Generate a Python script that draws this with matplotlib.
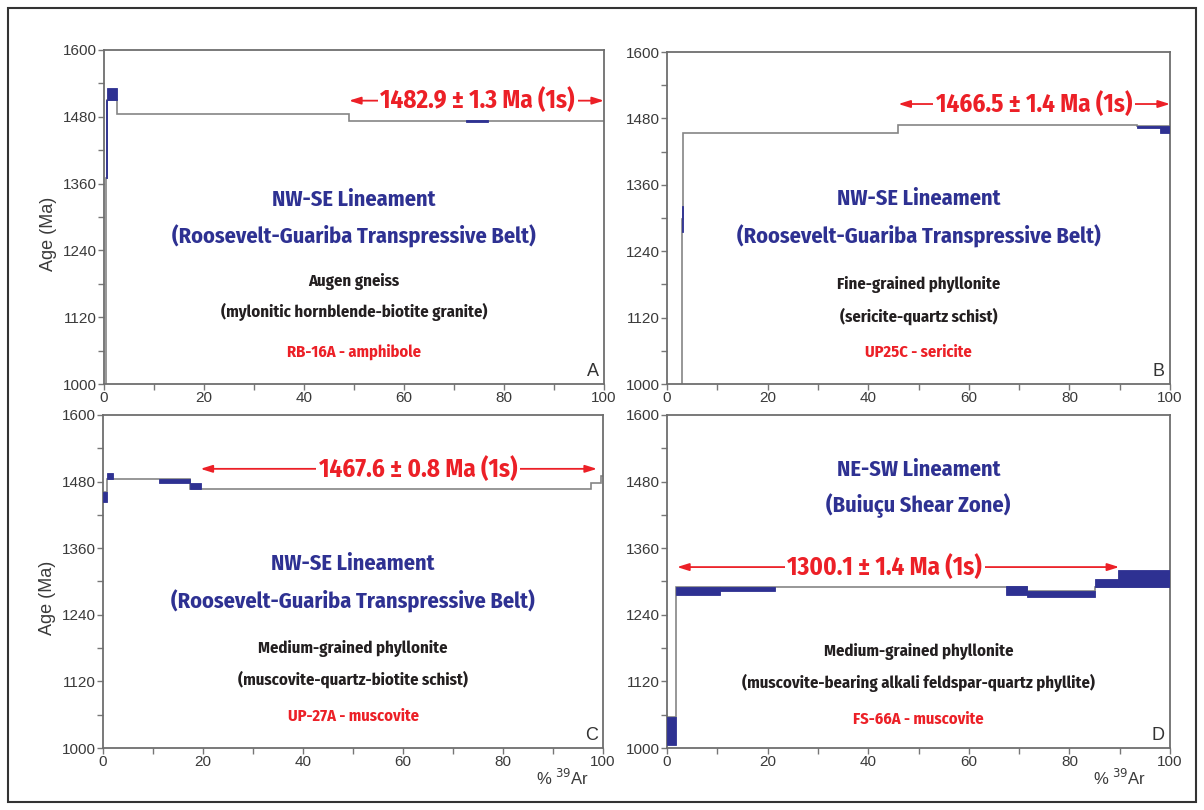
import numpy as np
import matplotlib
matplotlib.use("Agg")
import matplotlib.pyplot as plt
from matplotlib.patches import Rectangle
from matplotlib.ticker import FixedLocator

nan = np.nan

# step heating spectra: step edges (% 39Ar), step age line, error box low/high (Ma)
edges_a = [0, 0.3, 0.6, 2.6, 49, 72.3, 76.7, 100]
line_a = [950, 1370, 1510, 1485, 1473, 1473, 1473]
lo_a = [nan, 1370, 1510, nan, nan, 1471.5, nan]
hi_a = [nan, 1510, 1531, nan, nan, 1474.5, nan]

edges_b = [0, 2.9, 3.1, 46, 93.4, 98, 100]
line_b = [950, 1298, 1453, 1468, 1466, 1466]
lo_b = [nan, 1274, nan, nan, 1462, 1454]
hi_b = [nan, 1322, nan, nan, 1466, 1466]

edges_c = [0, 0.7, 1.9, 11.2, 17.3, 19.5, 97.5, 99.6, 100]
line_c = [1462, 1484, 1484, 1484, 1466, 1466, 1477, 1490]
lo_c = [1444, 1484, nan, 1477, 1466, nan, nan, nan]
hi_c = [1462, 1496, nan, 1484, 1477, nan, nan, nan]

edges_d = [0, 1.7, 10.5, 21.5, 67.3, 71.5, 85, 89.7, 100]
line_d = [1056, 1290, 1290, 1290, 1290, 1282, 1290, 1290]
lo_d = [1005, 1275, 1282, nan, 1275, 1272, 1290, 1290]
hi_d = [1056, 1290, 1290, nan, 1292, 1282, 1305, 1320]

# plateau ages: label, arrow start, arrow end, arrow age, label x
plateaus = [
    ("1482.9 ± 1.3 Ma (1s)", 49, 100, 1509, 74.7),
    ("1466.5 ± 1.4 Ma (1s)", 46, 100, 1506, 73.0),
    ("1467.6 ± 0.8 Ma (1s)", 19.5, 98.8, 1503, 63.0),
    ("1300.1 ± 1.4 Ma (1s)", 2.0, 89.9, 1326, 43.3),
]

titles = [
    ("NW-SE Lineament", "(Roosevelt-Guariba Transpressive Belt)"),
    ("NW-SE Lineament", "(Roosevelt-Guariba Transpressive Belt)"),
    ("NW-SE Lineament", "(Roosevelt-Guariba Transpressive Belt)"),
    ("NE-SW Lineament", "(Buiuçu Shear Zone)"),
]
rocks = [
    ("Augen gneiss", "(mylonitic hornblende-biotite granite)"),
    ("Fine-grained phyllonite", "(sericite-quartz schist)"),
    ("Medium-grained phyllonite", "(muscovite-quartz-biotite schist)"),
    ("Medium-grained phyllonite", "(muscovite-bearing alkali feldspar-quartz phyllite)"),
]
samples = ["RB-16A - amphibole", "UP25C - sericite", "UP-27A - muscovite", "FS-66A - muscovite"]
letters = ["A", "B", "C", "D"]
# text rows (age) for title1, title2, rock1, rock2, sample
text_rows = [
    [1331, 1266, 1185, 1130, 1058],
    [1334, 1267, 1179, 1123, 1058],
    [1332, 1265, 1180, 1124, 1058],
    [1501, 1436, 1173, 1117, 1051],
]

age_ticks = [1000, 1120, 1240, 1360, 1480, 1600]
age_minor = [1060, 1180, 1300, 1420, 1540]
pct_ticks = [0, 20, 40, 60, 80, 100]
pct_minor = [10, 30, 50, 70, 90]

navy = "#2e3192"
red = "#ec2027"
gray = "#858585"
narrow = ["Fira Sans Condensed", "Roboto Condensed", "DejaVu Sans"]
plt.rcParams["font.family"] = ["Liberation Sans", "DejaVu Sans"]

fig = plt.figure(figsize=(12.04, 8.10), dpi=100)
W, H = 1204, 810
boxes = [(104, 50, 604, 384), (667, 52, 1170, 384), (103, 415, 603, 748), (667, 415, 1170, 748)]
axes = []
for (l, t, r, b) in boxes:
    axes.append(fig.add_axes([l / W, (H - b) / H, (r - l) / W, (b - t) / H]))

data = [(edges_a, line_a, lo_a, hi_a), (edges_b, line_b, lo_b, hi_b),
        (edges_c, line_c, lo_c, hi_c), (edges_d, line_d, lo_d, hi_d)]

for i, ax in enumerate(axes):
    edges, line, lo, hi = [np.array(v, dtype=float) for v in data[i]]
    ax.stairs(line, edges, baseline=None, color=gray, lw=1.2, zorder=2)
    ok = ~np.isnan(lo)
    ax.bar(edges[:-1][ok], (hi - lo)[ok], width=np.diff(edges)[ok], bottom=lo[ok],
           align="edge", color=navy, edgecolor=navy, lw=0.6, zorder=3)

    ax.set_xlim(0, 100)
    ax.set_ylim(1000, 1600)
    ax.xaxis.set_major_locator(FixedLocator(pct_ticks))
    ax.xaxis.set_minor_locator(FixedLocator(pct_minor))
    ax.yaxis.set_major_locator(FixedLocator(age_ticks))
    ax.yaxis.set_minor_locator(FixedLocator(age_minor))
    ax.tick_params(which="both", direction="out", length=4, width=1, color="#777777",
                   labelsize=11, labelcolor="#3a3a3a", pad=1)
    for s in ax.spines.values():
        s.set_color("#6e6e6e")
        s.set_linewidth(1.3)

    txt, x0, x1, y, xt = plateaus[i]
    ax.annotate("", xy=(x0, y), xytext=(x1, y),
                arrowprops=dict(arrowstyle="<|-|>,head_length=0.7,head_width=0.22",
                                color=red, lw=1.3, shrinkA=0, shrinkB=0))
    ax.text(xt, y, txt, ha="center", va="center", color=red, fontsize=18,
            fontweight="bold", family=narrow, zorder=5,
            bbox=dict(fc="white", ec="none", pad=2))

    rows = text_rows[i]
    ax.text(50, rows[0], titles[i][0], ha="center", va="center", color=navy,
            fontsize=16, fontweight="bold", family=narrow)
    ax.text(50, rows[1], titles[i][1], ha="center", va="center", color=navy,
            fontsize=16, fontweight="bold", family=narrow)
    ax.text(50, rows[2], rocks[i][0], ha="center", va="center", color="#231f20",
            fontsize=12, fontweight="bold", family=narrow)
    ax.text(50, rows[3], rocks[i][1], ha="center", va="center", color="#231f20",
            fontsize=12, fontweight="bold", family=narrow)
    ax.text(50, rows[4], samples[i], ha="center", va="center", color=red,
            fontsize=11.8, fontweight="bold", family=narrow)
    ax.text(0.99, 0.012, letters[i], transform=ax.transAxes, ha="right", va="bottom",
            fontsize=13, color="#333333")

for ax in (axes[0], axes[2]):
    ax.set_ylabel("Age (Ma)", fontsize=13, color="#3a3a3a")
    ax.yaxis.set_label_coords(-0.094, 0.45)
for ax, xpos in ((axes[2], 0.92), (axes[3], 0.90)):
    ax.text(xpos, -0.09, r"% $^{39}$Ar", transform=ax.transAxes, ha="center",
            va="center", fontsize=12, color="#3a3a3a")

fig.patches.append(Rectangle((8 / W, 8 / H), 1188 / W, 794 / H, transform=fig.transFigure,
                             fill=False, ec="#333333", lw=1.5))

fig.savefig("out.png", dpi=100)
